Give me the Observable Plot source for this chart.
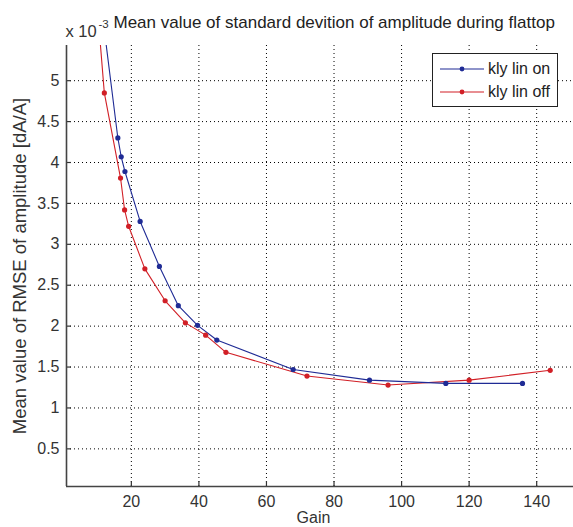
<!DOCTYPE html>
<html>
<head>
<meta charset="utf-8">
<script src="https://cdn.jsdelivr.net/npm/d3@7"></script>
<script src="https://cdn.jsdelivr.net/npm/@observablehq/plot@0.6"></script>
<style>
  html, body { margin: 0; padding: 0; background: #fff; }
  #wrap { position: relative; width: 573px; height: 527px; overflow: hidden; font-family: "Liberation Sans", Arial, sans-serif; }
  #legend { position: absolute; left: 432px; top: 53px; width: 126px; height: 54px; border: 1px solid #222; background: #fff; box-sizing: border-box; }
  #legend .row { position: absolute; left: 0; height: 20px; display: flex; align-items: center; font-size: 16px; color: #222; white-space: nowrap; }
  #legend svg { margin-left: 7px; margin-right: 4px; }
</style>
</head>
<body>
<div id="wrap"></div>
<script>
// Data: kly lin on (blue) and kly lin off (red)
const gainOn  = [11.3, 16.0, 17.0, 18.1, 22.6, 28.3, 33.9, 39.6, 45.3, 67.9, 90.5, 113.1, 135.8];
const valueOn = [5.85, 4.30, 4.07, 3.89, 3.28, 2.73, 2.25, 2.01, 1.83, 1.47, 1.34, 1.30, 1.30];
const gainOff  = [9.6, 12.0, 16.8, 18.0, 19.2, 24.0, 30.0, 36.0, 42.0, 48.0, 72.0, 96.0, 120.0, 144.0];
const valueOff = [6.07, 4.85, 3.81, 3.42, 3.22, 2.70, 2.31, 2.04, 1.89, 1.68, 1.39, 1.28, 1.34, 1.46];
const seriesNames = ["kly lin on", "kly lin off"];
const seriesColors = ["#1f2b95", "#d11f26"];
const xTicks = [20, 40, 60, 80, 100, 120, 140];
const yTicks = [0.5, 1, 1.5, 2, 2.5, 3, 3.5, 4, 4.5, 5];
const titleText = "Mean value of standard devition of amplitude during flattop";
const xLabel = "Gain";
const yLabel = "Mean value of RMSE of amplitude [dA/A]";

const xDom = [0.8, 150.9];
const yDom = [0.04, 5.43];

const on = gainOn.map((g, i) => ({gain: g, value: valueOn[i], s: seriesNames[0]}));
const off = gainOff.map((g, i) => ({gain: g, value: valueOff[i], s: seriesNames[1]}));

const tickLenX = 5 / 3.39;   // ~5px in data units
const tickLenY = 5 / 81.9;

const chart = Plot.plot({
  width: 573,
  height: 527,
  marginLeft: 66,
  marginRight: 0,
  marginTop: 45,
  marginBottom: 41,
  style: {fontFamily: "Liberation Sans, Arial, sans-serif", fontSize: "16px", color: "#333", background: "#fff"},
  x: {domain: xDom, ticks: xTicks, tickSize: 0, tickPadding: 9, label: null, tickFormat: d => String(d)},
  y: {domain: yDom, ticks: yTicks, tickSize: 0, tickPadding: 7, label: null, tickFormat: d => String(d)},
  marks: [
    Plot.ruleX(xTicks, {stroke: "#000", strokeDasharray: "1,3", strokeWidth: 1}),
    Plot.ruleY(yTicks, {stroke: "#000", strokeDasharray: "1,3", strokeWidth: 1}),
    Plot.ruleX(xTicks, {y1: yDom[0], y2: yDom[0] + tickLenY, stroke: "#333", strokeWidth: 1.2}),
    Plot.ruleY(yTicks, {x1: xDom[0], x2: xDom[0] + tickLenX, stroke: "#333", strokeWidth: 1.2}),
    Plot.line(off, {x: "gain", y: "value", stroke: seriesColors[1], strokeWidth: 1.1, clip: true}),
    Plot.line(on, {x: "gain", y: "value", stroke: seriesColors[0], strokeWidth: 1.1, clip: true}),
    Plot.dot(off, {x: "gain", y: "value", fill: seriesColors[1], r: 2.6, clip: true}),
    Plot.dot(on, {x: "gain", y: "value", fill: seriesColors[0], r: 2.6, clip: true}),
    Plot.ruleX([xDom[0]], {stroke: "#444", strokeWidth: 1.6}),
    Plot.ruleY([yDom[0]], {stroke: "#444", strokeWidth: 1.6}),
    Plot.text([titleText], {frameAnchor: "top-left", dx: 47, dy: -30, textAnchor: "start", lineAnchor: "top", fontSize: 17, fill: "#222"}),
    Plot.text(["x 10"], {frameAnchor: "top-left", dx: -1, dy: -20, textAnchor: "start", lineAnchor: "top", fontSize: 16.5, fill: "#333"}),
    Plot.text(["-3"], {frameAnchor: "top-left", dx: 32, dy: -26, textAnchor: "start", lineAnchor: "top", fontSize: 11.5, fill: "#333"}),
    Plot.text([xLabel], {frameAnchor: "bottom-left", dx: 247, dy: 31, textAnchor: "middle", lineAnchor: "middle", fontSize: 16, fill: "#333"}),
    Plot.text([yLabel], {frameAnchor: "left", dx: -46, textAnchor: "middle", lineAnchor: "middle", rotate: -90, fontSize: 18.5, fill: "#333"})
  ]
});

const wrap = document.getElementById("wrap");
wrap.appendChild(chart);

// Legend overlay
const legend = document.createElement("div");
legend.id = "legend";
seriesNames.forEach((name, i) => {
  const row = document.createElement("div");
  row.className = "row";
  row.style.top = (5 + i * 23) + "px";
  row.innerHTML = `<svg width="44" height="10"><line x1="0" y1="5" x2="44" y2="5" stroke="${seriesColors[i]}" stroke-width="1.1"/><circle cx="22" cy="5" r="2.4" fill="${seriesColors[i]}"/></svg><span>${name}</span>`;
  legend.appendChild(row);
});
wrap.appendChild(legend);
</script>
</body>
</html>
